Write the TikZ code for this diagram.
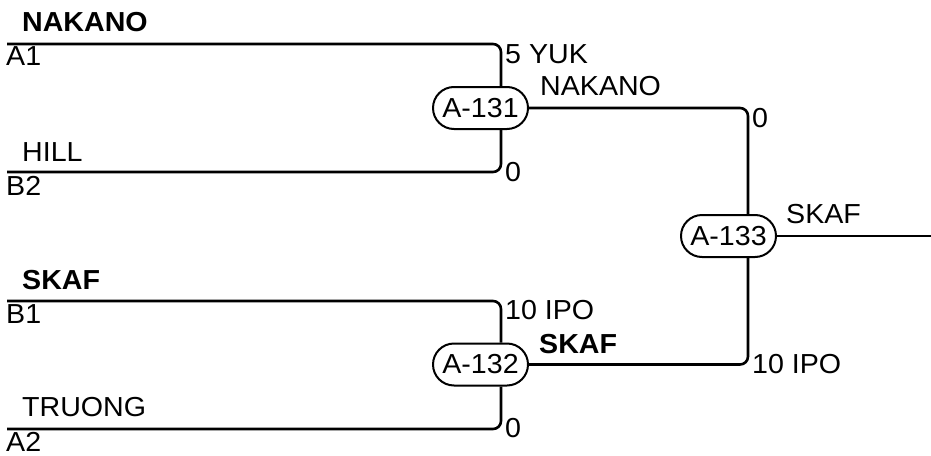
\documentclass[tikz,border=0pt]{standalone}
\usepackage{fontspec}
\setmainfont{Liberation Sans}[FakeStretch=1.04]
\begin{document}
\begin{tikzpicture}[x=1pt,y=-1pt,
  every node/.style={font=\fontsize{27.5}{31}\selectfont},
  bold/.style={font=\fontsize{27.5}{31}\selectfont\bfseries},
  match/.style={draw,line width=2pt,minimum width=95pt,minimum height=42pt,rounded corners=21pt,inner sep=0pt},
  wire/.style={line width=2.6pt,rounded corners=8pt},
  lbl/.style={anchor=base west,inner sep=0pt}]
\useasboundingbox (0,0) rectangle (931,455);
% matches
\node[match] (m131) at (480.5,108) {A-131};
\node[match] (m132) at (480.5,364.5) {A-132};
\node[match] (m133) at (728.5,236) {A-133};
% free ends
\coordinate (a1) at (7,44);
\coordinate (b2) at (7,172);
\coordinate (b1) at (7,301);
\coordinate (a2) at (7,429);
\coordinate (out) at (931,236);
% wires
\draw[wire] (a1) -| ([xshift=20.5pt]m131.north);
\draw[wire] (b2) -| ([xshift=20.5pt]m131.south);
\draw[wire] (b1) -| ([xshift=20.5pt]m132.north);
\draw[wire] (a2) -| ([xshift=20.5pt]m132.south);
\draw[wire] (m131.east) -| ([xshift=19.5pt]m133.north);
\draw[wire] (m132.east) -| ([xshift=19.5pt]m133.south);
\draw[wire] (m133.east) -- (out);
% left labels
\node[lbl,bold] (t1) at (22,31) {NAKANO};
\node[lbl] (s1) at (6,65) {A1};
\node[lbl] (t2) at (22,161) {HILL};
\node[lbl] (s2) at (6,195) {B2};
\node[lbl,bold] (t3) at (22,289) {SKAF};
\node[lbl] (s3) at (6,323) {B1};
\node[lbl] (t4) at (22,416) {TRUONG};
\node[lbl] (s4) at (6,451) {A2};
% scores and winners
\node[lbl] (r1) at (505,63) {5 YUK};
\node[lbl] (r2) at (505,181) {0};
\node[lbl] (w1) at (540,95) {NAKANO};
\node[lbl] (r3) at (505,319) {10 IPO};
\node[lbl] (r4) at (505,437) {0};
\node[lbl,bold] (w2) at (539,353) {SKAF};
\node[lbl] (r5) at (752,127) {0};
\node[lbl] (r6) at (752,373) {10 IPO};
\node[lbl] (w3) at (786,223) {SKAF};
\end{tikzpicture}
\end{document}
